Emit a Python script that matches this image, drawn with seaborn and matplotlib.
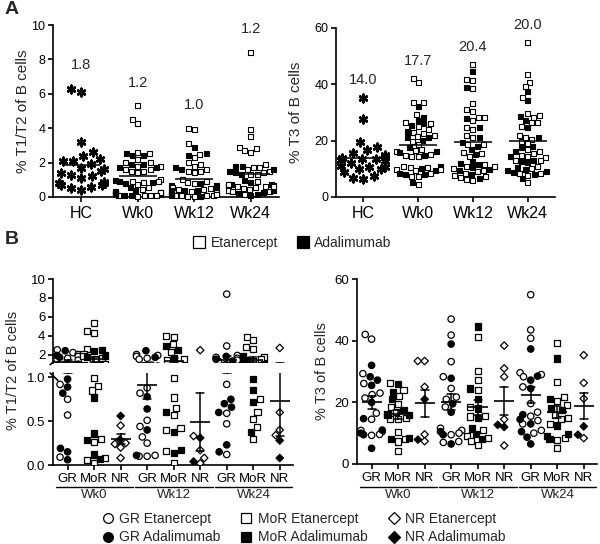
import warnings
import matplotlib
matplotlib.use("Agg")
import matplotlib.pyplot as plt
from matplotlib.lines import Line2D
import pandas as pd
import seaborn as sns

warnings.filterwarnings("ignore")

weeks = ["Wk0", "Wk12", "Wk24"]
responses = ["GR", "MoR", "NR"]
groups_a = ["HC", "Wk0", "Wk12", "Wk24"]
cats_b = [w + " " + r for w in weeks for r in responses]

mean_labels_t12 = ["1.8", "1.2", "1.0", "1.2"]
mean_labels_t3 = ["14.0", "17.7", "20.4", "20.0"]

# % T1/T2 of B cells
t12_hc = [6.3, 6.1, 3.2, 2.6, 2.4, 2.2, 2.1, 2.1, 1.9, 1.7, 1.6, 1.5, 1.4, 1.3,
          1.2, 1.1, 0.9, 0.8, 0.8, 0.7, 0.7, 0.6, 0.5, 0.4]
t12_wk0_gr_eta = [2.5, 2.2, 2.0, 1.8, 1.6, 1.5, 1.4, 0.92, 0.75, 0.57, 0.09]
t12_wk0_gr_ada = [2.4, 1.9, 1.7, 0.98, 0.89, 0.82, 0.19, 0.15, 0.06]
t12_wk0_mor_eta = [5.3, 4.5, 4.3, 2.6, 2.0, 1.8, 1.6, 1.5, 0.99, 0.90, 0.85,
                   0.30, 0.26, 0.08, 0.06, 0.02]
t12_wk0_mor_ada = [2.5, 2.4, 1.9, 1.7, 0.77, 0.36, 0.29, 0.12, 0.07]
t12_wk0_nr_eta = [0.45, 0.25, 0.24, 0.20, 0.08]
t12_wk0_nr_ada = [0.56, 0.29]
t12_wk12_gr_eta = [2.0, 1.9, 1.8, 1.6, 1.5, 0.88, 0.82, 0.51, 0.44, 0.32, 0.25,
                   0.11, 0.10, 0.10]
t12_wk12_gr_ada = [2.4, 1.7, 0.78, 0.64, 0.40, 0.11]
t12_wk12_mor_eta = [4.0, 3.9, 3.1, 2.3, 1.5, 1.4, 0.99, 0.77, 0.65, 0.57, 0.42,
                    0.40, 0.16, 0.02]
t12_wk12_mor_ada = [2.9, 2.5, 1.6, 0.60, 0.38, 0.17, 0.14]
t12_wk12_nr_eta = [2.46, 0.33, 0.17, 0.08, 0.02]
t12_wk12_nr_ada = [0.31, 0.04]
t12_wk24_gr_eta = [8.4, 2.9, 1.9, 1.7, 1.6, 1.4, 1.3, 0.92, 0.59, 0.47, 0.12]
t12_wk24_gr_ada = [1.8, 1.5, 1.3, 0.75, 0.70, 0.66, 0.60, 0.23, 0.15]
t12_wk24_mor_eta = [3.9, 3.5, 2.8, 2.6, 1.7, 1.5, 1.3, 0.75, 0.60, 0.53, 0.43, 0.30]
t12_wk24_mor_ada = [1.8, 1.6, 1.4, 0.98, 0.86, 0.72, 0.38]
t12_wk24_nr_eta = [2.7, 0.60, 0.40, 0.34]
t12_wk24_nr_ada = [0.28, 0.08]

# % T3 of B cells
t3_hc = [35.2, 27.6, 19.6, 17.8, 16.8, 15.5, 15.0, 14.4, 13.5, 14.0, 13.5, 13.2,
         12.8, 12.0, 11.0, 10.5, 10.0, 9.8, 9.0, 7.5, 6.8, 6.5, 10.8, 13.2]
t3_wk0_gr_eta = [42.0, 40.5, 29.3, 26.1, 23.0, 22.5, 21.4, 16.5, 14.5, 10.9, 10.5,
                 9.6, 9.3]
t3_wk0_gr_ada = [32.0, 28.3, 27.2, 25.5, 20.0, 14.7, 11.0, 10.0, 9.5, 5.1]
t3_wk0_mor_eta = [26.3, 23.9, 22.0, 19.6, 18.5, 16.8, 16.3, 15.0, 14.7, 14.5, 10.5,
                  8.2, 7.3, 4.3]
t3_wk0_mor_ada = [26.0, 23.4, 21.0, 17.4, 16.0, 15.8, 8.5, 8.0]
t3_wk0_nr_eta = [33.4, 33.4, 25.0, 9.6, 7.4]
t3_wk0_nr_ada = [21.0, 7.9]
t3_wk12_gr_eta = [47.0, 41.8, 33.2, 28.3, 24.5, 21.7, 21.0, 18.5, 11.6, 10.9, 10.0,
                  9.5, 7.3, 7.0]
t3_wk12_gr_ada = [38.9, 27.8, 19.5, 16.8, 10.5, 9.5, 6.5]
t3_wk12_mor_eta = [41.3, 30.2, 27.2, 24.1, 18.5, 15.7, 15.4, 10.9, 9.0, 8.5, 7.5, 6.2]
t3_wk12_mor_ada = [44.6, 24.5, 21.2, 18.0, 15.0, 11.5, 9.6, 8.1]
t3_wk12_nr_eta = [38.4, 31.0, 28.3, 14.5, 6.0]
t3_wk12_nr_ada = [12.7, 12.0]
t3_wk24_gr_eta = [54.9, 43.5, 40.8, 29.6, 29.0, 28.3, 25.0, 19.6, 16.8, 15.5, 14.1,
                  13.0, 10.9, 10.0]
t3_wk24_gr_ada = [37.3, 28.5, 27.2, 24.5, 16.0, 14.5, 13.0, 10.5, 8.7, 6.5]
t3_wk24_mor_eta = [39.3, 26.6, 21.7, 20.5, 19.0, 16.0, 14.9, 14.5, 13.0, 8.5, 7.8, 5.2]
t3_wk24_mor_ada = [34.2, 21.0, 18.0, 17.4, 12.5, 9.8, 9.0, 8.0]
t3_wk24_nr_eta = [35.3, 26.3, 21.2, 8.4]
t3_wk24_nr_ada = [12.2, 9.5]


def long_table(parts):
    rows = []
    for week, resp, eta, ada in parts:
        rows += [(week, resp, "Etanercept", v) for v in eta]
        rows += [(week, resp, "Adalimumab", v) for v in ada]
    df = pd.DataFrame(rows, columns=["week", "resp", "drug", "value"])
    df["cat"] = df["week"] + " " + df["resp"]
    return df


t12 = long_table([
    ("Wk0", "GR", t12_wk0_gr_eta, t12_wk0_gr_ada),
    ("Wk0", "MoR", t12_wk0_mor_eta, t12_wk0_mor_ada),
    ("Wk0", "NR", t12_wk0_nr_eta, t12_wk0_nr_ada),
    ("Wk12", "GR", t12_wk12_gr_eta, t12_wk12_gr_ada),
    ("Wk12", "MoR", t12_wk12_mor_eta, t12_wk12_mor_ada),
    ("Wk12", "NR", t12_wk12_nr_eta, t12_wk12_nr_ada),
    ("Wk24", "GR", t12_wk24_gr_eta, t12_wk24_gr_ada),
    ("Wk24", "MoR", t12_wk24_mor_eta, t12_wk24_mor_ada),
    ("Wk24", "NR", t12_wk24_nr_eta, t12_wk24_nr_ada),
])
t3 = long_table([
    ("Wk0", "GR", t3_wk0_gr_eta, t3_wk0_gr_ada),
    ("Wk0", "MoR", t3_wk0_mor_eta, t3_wk0_mor_ada),
    ("Wk0", "NR", t3_wk0_nr_eta, t3_wk0_nr_ada),
    ("Wk12", "GR", t3_wk12_gr_eta, t3_wk12_gr_ada),
    ("Wk12", "MoR", t3_wk12_mor_eta, t3_wk12_mor_ada),
    ("Wk12", "NR", t3_wk12_nr_eta, t3_wk12_nr_ada),
    ("Wk24", "GR", t3_wk24_gr_eta, t3_wk24_gr_ada),
    ("Wk24", "MoR", t3_wk24_mor_eta, t3_wk24_mor_ada),
    ("Wk24", "NR", t3_wk24_nr_eta, t3_wk24_nr_ada),
])

fill = {"Etanercept": "white", "Adalimumab": "black"}
markers = {"GR": "o", "MoR": "s", "NR": "D"}
msizes = {"GR": 4.6, "MoR": 4.4, "NR": 3.8}

sns.set_theme(style="ticks")
plt.rcParams["font.family"] = ["Liberation Sans", "DejaVu Sans"]
plt.rcParams["axes.linewidth"] = 1.2
plt.rcParams["xtick.major.width"] = 1.2
plt.rcParams["ytick.major.width"] = 1.2
plt.rcParams["xtick.major.size"] = 3.5
plt.rcParams["ytick.major.size"] = 3.5
plt.rcParams["axes.edgecolor"] = "black"
plt.rcParams["xtick.color"] = "black"
plt.rcParams["ytick.color"] = "black"

W, H = 600, 544
fig = plt.figure(figsize=(W / 100, H / 100), dpi=100)


def box(l, t, r, b):
    return [l / W, 1 - b / H, (r - l) / W, (b - t) / H]


def unclip(ax):
    # empty scatter collections would otherwise draw a marker at the figure corner
    for c in ax.collections:
        if len(c.get_offsets()) > 0:
            c.set_clip_on(False)


def panel_a(ax, df, hc, labels, off):
    sns.swarmplot(data=df, x="week", y="value", hue="drug", order=groups_a,
                  palette=fill, marker="s", size=3.6, edgecolor="black",
                  linewidth=0.8, legend=False, ax=ax)
    hc_df = pd.DataFrame({"week": "HC", "value": hc})
    sns.swarmplot(data=hc_df, x="week", y="value", order=groups_a, color="black",
                  marker=(6, 2, 0), size=5.5, edgecolor="black", linewidth=1.8, ax=ax)
    both = pd.concat([hc_df, df[["week", "value"]]], ignore_index=True)
    sns.pointplot(data=both, x="week", y="value", order=groups_a, errorbar=None,
                  markers="_", markersize=27, markeredgewidth=1.1,
                  linestyle="none", color="black", zorder=5, ax=ax)
    for i, g in enumerate(groups_a):
        top = both.loc[both["week"] == g, "value"].max()
        ax.text(i, top + off, labels[i], ha="center", va="center", fontsize=10.5)
    ax.set_xlim(-0.5, 3.5)
    ax.set_xlabel("")
    ax.tick_params(axis="x", labelsize=11.5, pad=3)
    ax.tick_params(axis="y", labelsize=9, pad=2)
    unclip(ax)
    sns.despine(ax=ax)


def panel_b(ax, df):
    for resp in responses:
        sub = df[df["resp"] == resp]
        sns.swarmplot(data=sub, x="cat", y="value", hue="drug", order=cats_b,
                      palette=fill, marker=markers[resp], size=msizes[resp],
                      edgecolor="black", linewidth=0.9, legend=False, ax=ax)
    sns.pointplot(data=df, x="cat", y="value", order=cats_b, errorbar="se",
                  capsize=0.3, markers="_", markersize=14, markeredgewidth=1.2,
                  linestyle="none", color="black", zorder=5,
                  err_kws={"linewidth": 1.1, "zorder": 5}, ax=ax)
    ax.set_xlim(-0.55, 8.5)
    ax.set_xlabel("")
    ax.set_xticks(range(len(cats_b)))
    ax.set_xticklabels(responses * 3)
    ax.tick_params(axis="x", labelsize=9.5, pad=2)
    ax.tick_params(axis="y", labelsize=9.5, pad=2)
    sns.despine(ax=ax)


def week_labels(ax, y_line, y_text):
    tr = ax.get_xaxis_transform()
    for i, w in enumerate(weeks):
        x0, x1 = 3 * i - 0.45, 3 * i + 2.48
        ax.plot([x0, x1], [y_line, y_line], color="black", lw=1.0,
                transform=tr, clip_on=False)
        ax.text((x0 + x1) / 2, y_text, w, ha="center", va="center",
                fontsize=9.5, transform=tr)


# Panel A
axA1 = fig.add_axes(box(53, 25, 279, 197))
panel_a(axA1, t12, t12_hc, mean_labels_t12, 1.35)
axA1.set_ylim(0, 10)
axA1.set_yticks([0, 2, 4, 6, 8, 10])
axA1.set_ylabel("% T1/T2 of B cells", fontsize=11, labelpad=1)

axA2 = fig.add_axes(box(336, 28, 555, 197))
panel_a(axA2, t3, t3_hc, mean_labels_t3, 6.2)
axA2.set_ylim(0, 60)
axA2.set_yticks([0, 20, 40, 60])
axA2.set_ylabel("% T3 of B cells", fontsize=11, labelpad=8)

# Panel B, left with broken axis
axBt = fig.add_axes(box(53, 279, 293, 363))
axBb = fig.add_axes(box(53, 373, 293, 465))
panel_b(axBt, t12)
panel_b(axBb, t12)
axBt.set_ylim(1.1, 10)
axBt.set_yticks([2, 4, 6, 8, 10])
axBt.spines["bottom"].set_visible(False)
axBt.tick_params(axis="x", bottom=False, labelbottom=False)
axBt.set_ylabel("")
axBb.set_ylim(0, 1.05)
axBb.set_yticks([0, 0.5, 1.0])
axBb.set_yticklabels(["0.0", "0.5", "1.0"])
axBb.set_ylabel("")
fig.text(13 / W, 1 - 370 / H, "% T1/T2 of B cells", rotation=90,
         ha="center", va="center", fontsize=10.5)
axBt.plot([-0.012, 0.02], [-0.02, 0.06], transform=axBt.transAxes,
          color="black", lw=1.2, clip_on=False)
axBb.plot([-0.012, 0.02], [1.0, 0.92], transform=axBb.transAxes,
          color="black", lw=1.2, clip_on=False)
week_labels(axBb, -0.24, -0.325)

axB2 = fig.add_axes(box(357, 279, 597, 464))
panel_b(axB2, t3)
axB2.set_ylim(0, 60)
axB2.set_yticks([0, 20, 40, 60])
axB2.set_ylabel("% T3 of B cells", fontsize=10.5, labelpad=4)
unclip(axB2)
week_labels(axB2, -0.124, -0.168)

fig.text(0.008, 0.998, "A", fontsize=14, fontweight="bold", va="top")
fig.text(0.008, 1 - 231 / H, "B", fontsize=14, fontweight="bold", va="top")

# legends
def handle(marker, face, ms):
    return Line2D([], [], linestyle="none", marker=marker, markersize=ms,
                  markerfacecolor=face, markeredgecolor="black", markeredgewidth=0.9)


fig.legend([handle("s", "white", 8), handle("s", "black", 8)],
           ["Etanercept", "Adalimumab"], loc="center",
           bbox_to_anchor=(292 / W, 1 - 243 / H), ncol=2, frameon=False,
           fontsize=10, handletextpad=0.3, columnspacing=1.3, handlelength=1)

leg_handles, leg_labels = [], []
for resp in responses:
    for drug in ["Etanercept", "Adalimumab"]:
        leg_handles.append(handle(markers[resp], fill[drug], 7 if resp != "NR" else 6))
        leg_labels.append(f"{resp} {drug}")
fig.legend(leg_handles, leg_labels, loc="center",
           bbox_to_anchor=(303 / W, 1 - 528 / H), ncol=3, frameon=False,
           fontsize=10, handletextpad=0.3, columnspacing=1.4, handlelength=1,
           labelspacing=0.35)

fig.savefig("out.png", dpi=100)
